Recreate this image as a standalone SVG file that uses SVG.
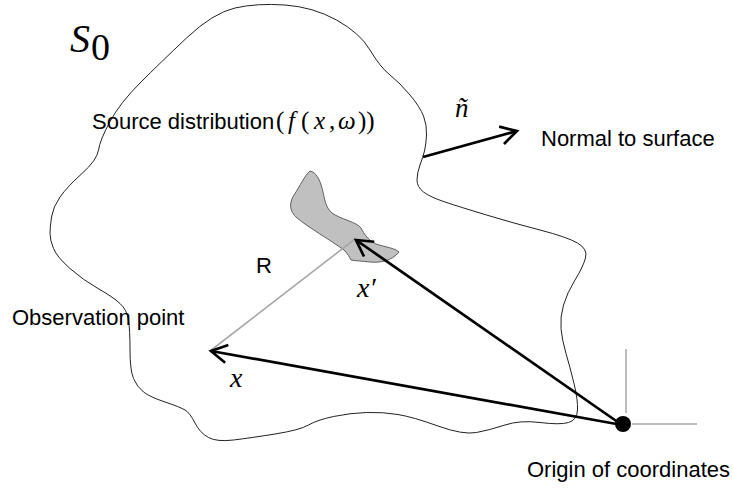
<svg xmlns="http://www.w3.org/2000/svg" width="733" height="488" viewBox="0 0 733 488">
<style>
.lbl{font-family:"Liberation Sans",Arial,sans-serif;font-size:22px;fill:#000}
.mi{font-family:"Liberation Serif","Times New Roman",serif;font-style:italic}
.m{font-family:"Liberation Serif","Times New Roman",serif;font-style:normal}
.vec{fill:none;stroke:#000;stroke-width:2.7;marker-end:url(#ah)}
.axis{stroke:#bdbdbd;stroke-width:2;fill:none}
</style>
<defs>
<marker id="ah" markerUnits="userSpaceOnUse" markerWidth="30" markerHeight="30" viewBox="-20 -15 25 30" refX="0" refY="0" orient="auto" overflow="visible">
<path d="M-16,-9 L0,0 L-16,9" fill="none" stroke="#000" stroke-width="2.7" stroke-linejoin="miter"/>
</marker>
</defs>
<rect width="733" height="488" fill="#fff"/>
<g id="surface">
<path fill="none" stroke="#222" stroke-width="1" d="M235,8 Q257,3 285,5 Q313,7 336.5,20 Q360,33 370,50 Q380,67 390,75 Q400,83 410,95 Q420,107 423.5,116 Q427,125 426.5,135 Q426,145 424.5,151 Q423,157 420,165 Q417,173 417,180 Q417,187 423.5,192 Q430,197 445,202 Q460,207 486.5,215 Q513,223 540,230 Q567,237 577.5,243 Q588,249 585.5,258 Q583,267 575,280 Q567,293 563.5,305 Q560,317 561,328.5 Q562,340 566,353.5 Q570,367 574,383.5 Q578,400 577.5,410 Q577,420 568.5,422.5 Q560,425 540,422.5 Q520,420 505,425 Q490,430 476.5,432.5 Q463,435 438,426 Q413,417 398,414.5 Q383,412 366.5,412.5 Q350,413 333.5,416.5 Q317,420 308.5,425 Q300,430 275,434 Q250,438 233.5,440 Q217,442 208.5,437.5 Q200,433 195,423 Q190,413 185,410 Q180,407 165,402 Q150,397 143.5,392 Q137,387 133.5,378.5 Q130,370 130,350 Q130,330 128.5,320 Q127,310 120,303.5 Q113,297 98,288.5 Q83,280 70,268.5 Q57,257 53.5,248.5 Q50,240 50,233.5 Q50,227 51.5,217 Q53,207 60,197 Q67,187 82,173.5 Q97,160 98.5,150 Q100,140 110,121.5 Q120,103 140,83 Q160,63 186.5,38 Q213,13 235,8 Z"/>
<text x="70" y="52" class="mi" font-size="40">S</text>
<text x="91" y="60" class="m" font-size="38">0</text>
</g>
<g id="source-region">
<path fill="#c0c0c0" stroke="#404040" stroke-width="0.8" d="M310,171 C305,175 300,186 294,195 C289,203 289,211 297,218 C308,227 330,240 344,250 C348,254 350,258 351,260 C356,261 362,261 370,262 C380,263 392,261 399,252 C395,248 385,247 376,244 C368,240 364,234 361,228 C357,222 340,219 332,213 C325,207 325,199 322,188 C320,180 316,172 310,171 Z"/>
<text class="lbl" x="92" y="129" font-size="21">Source distribution<tspan class="m" x="276" font-size="25">(</tspan><tspan class="mi" x="288" font-size="25">f</tspan><tspan class="m" x="301" font-size="25">(</tspan><tspan class="mi" x="314" font-size="25">x</tspan><tspan class="m" x="329" font-size="25">,</tspan><tspan class="mi" x="338" font-size="25">ω</tspan><tspan class="m" x="358" font-size="25">))</tspan></text>
</g>
<g id="observation-point">
<text class="lbl" x="12" y="325">Observation point</text>
</g>
<g id="origin">
<line class="axis" x1="626" y1="349" x2="626" y2="413"/>
<line class="axis" x1="632" y1="424" x2="697" y2="424"/>
<circle cx="623" cy="424" r="8" fill="#000"/>
<text class="lbl" x="527" y="477">Origin of coordinates</text>
</g>
<g id="normal">
<text class="lbl" x="541" y="146">Normal to surface</text>
</g>
<g id="connectors">
<line x1="210" y1="351" x2="355" y2="239" stroke="#a6a6a6" stroke-width="1.6"/>
<line class="vec" x1="622" y1="425" x2="356" y2="240"/>
<line class="vec" x1="622" y1="425" x2="211" y2="351"/>
<line class="vec" x1="423" y1="157" x2="517" y2="131"/>
<text class="lbl" x="256" y="273">R</text>
<text class="mi" x="357" y="297" font-size="28">x′</text>
<text class="mi" x="230" y="387" font-size="28">x</text>
<text class="mi" x="455" y="117" font-size="27">ñ</text>
</g>
</svg>
